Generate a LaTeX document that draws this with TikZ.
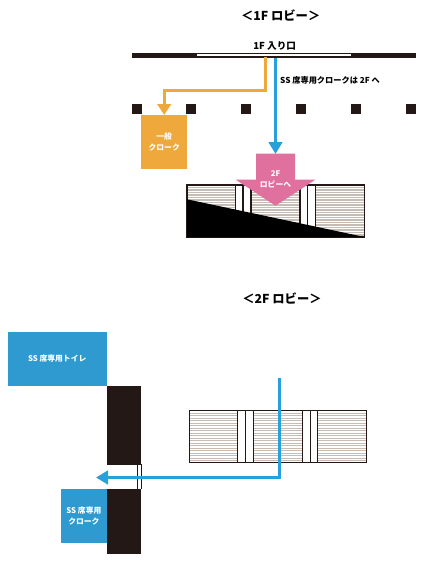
\documentclass[tikz,border=0pt]{standalone}
\usepackage{fontspec}
\setmainfont{Noto Sans CJK JP}
\usetikzlibrary{arrows.meta}
\definecolor{wallblack}{HTML}{231815}
\definecolor{signorange}{HTML}{EFA83C}
\definecolor{signblue}{HTML}{2E9AD0}
\definecolor{routeblue}{HTML}{27A0DC}
\definecolor{signpink}{HTML}{E0709E}
\definecolor{stripegray}{HTML}{C6BCB3}
\tikzset{
    titletext/.style={font=\bfseries\fontsize{12.3}{14}\selectfont,inner sep=0pt},
    labeltext/.style={font=\bfseries\fontsize{8.2}{10}\selectfont,inner sep=0pt},
    boxtext/.style={font=\bfseries\fontsize{7.8}{11.5}\selectfont,text=white,align=center,inner sep=0pt},
    signbox/.style={boxtext,minimum width=#1,anchor=north west},
    pillar/.style={fill=wallblack,minimum size=10pt,inner sep=0pt},
    wallbox/.style={fill=wallblack,inner sep=0pt,anchor=north west},
    orangeroute/.style={draw=signorange,line width=3pt,-{Triangle[length=11pt,width=13.5pt]}},
    blueroute/.style={draw=routeblue,line width=3.2pt,-{Triangle[length=12pt,width=13.5pt]}},
    escalator/.pic={
        \fill[white] (0,0) rectangle (177.5,52);
        \foreach \y in {2.5,5,...,50}{
            \draw[stripegray,line width=1.4pt] (0,\y) -- (177.5,\y);
        }
        \fill[white] (48.3,0) rectangle (64,52);
        \fill[white] (113,0) rectangle (128.5,52);
        \draw[wallblack,line width=1.1pt] (0,0) rectangle (177.5,52);
        \foreach \x in {48.3,56,64,113,120.7,128.5}{
            \draw[wallblack,line width=1.1pt] (\x,0) -- (\x,52);
        }
    }
}
\begin{document}
\begin{tikzpicture}[x=1pt,y=-1pt]
    \useasboundingbox (0,0) rectangle (433,570);
    % 1F
    \node[titletext] (title1f) at (280.7,15) {＜1F ロビー＞};
    \node[labeltext,font=\bfseries\fontsize{9.6}{11}\selectfont] (entrance) at (274.7,45.7) {1F 入り口};
    \node[wallbox,minimum width=284.5pt,minimum height=4.6pt] (wall1f) at (131.7,53) {};
    \fill[white] (196.7,54.2) rectangle (351,56);
    \node[labeltext,anchor=west] (notice) at (280,80) {SS 席専用クロークは 2F へ};
    \foreach \x in {136.7,191.3,246.3,301.3,356.3,411}{
        \node[pillar] at (\x,109) {};
    }
    \node[signbox=46pt,fill=signorange,minimum height=54pt] (cloak1f) at (141,115) {一般\\クローク};
    \coordinate (orangestart) at (265.3,57);
    \draw[orangeroute] (orangestart) |- (215,90) -| (cloak1f.north);
    \pic at (187,185) {escalator};
    \fill[black] (187,199.3) -- (364.5,237) -- (187,237) -- cycle;
    \fill[signpink] (256,153.7) -- (295,153.7) -- (295,179.7) -- (315.3,179.7)
        -- (275.5,205.7) -- (235.7,179.7) -- (256,179.7) -- cycle;
    \node[boxtext] (lobbysign) at (275.5,179.5) {2F\\ロビーへ};
    \coordinate (bluestart) at (275.5,57.5);
    \coordinate (pinktop) at (275.5,154);
    \draw[blueroute] (bluestart) -- (pinktop);
    % 2F
    \node[titletext] (title2f) at (282,298.7) {＜2F ロビー＞};
    \node[wallbox,minimum width=34.3pt,minimum height=79pt] (wallupper) at (106.7,385.3) {};
    \node[wallbox,minimum width=34.3pt,minimum height=64.3pt] (walllower) at (106.7,489) {};
    \node[signbox=99.4pt,fill=signblue,minimum height=53.3pt] (toilet) at (7.3,332) {SS 席専用トイレ};
    \node[signbox=46pt,fill=signblue,minimum height=54pt] (cloak2f) at (60.7,489) {SS 席専用\\クローク};
    \draw[wallblack,line width=0.7pt] (137.2,464.3) -- (137.2,489) (141,464.3) -- (141,489);
    \pic at (189.4,410.7) {escalator};
    \coordinate (routetop) at (279.7,378.3);
    \coordinate (routeend) at (96,477.5);
    \draw[blueroute] (routetop) |- (routeend);
\end{tikzpicture}
\end{document}
